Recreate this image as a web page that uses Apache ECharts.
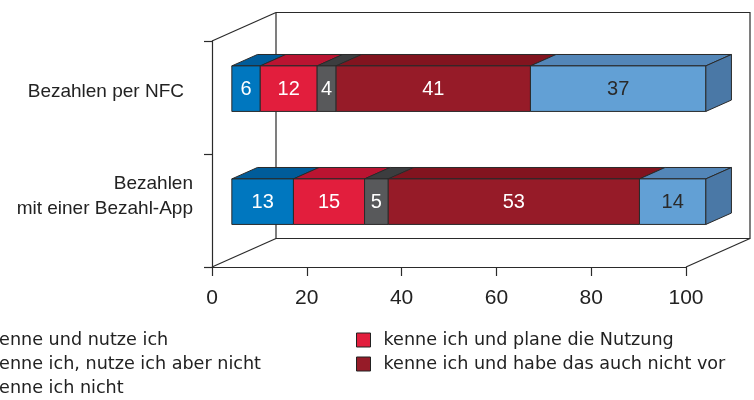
<!DOCTYPE html>
<html>
<head>
<meta charset="utf-8">
<script src="https://cdn.jsdelivr.net/npm/echarts@6/dist/echarts.min.js"></script>
<style>
html,body{margin:0;padding:0;background:#fff;}
#chart{width:754px;height:400px;}
</style>
</head>
<body>
<div id="chart"></div>
<script>
// ---- data ----
const categories = ['Bezahlen per NFC', 'Bezahlen\nmit einer Bezahl-App'];
const seriesNames = [
  'kenne und nutze ich',
  'kenne ich und plane die Nutzung',
  'kenne ich, nutze ich aber nicht',
  'kenne ich und habe das auch nicht vor',
  'kenne ich nicht'
];
const kenneNutze = [6, 13];
const plane = [12, 15];
const nutzeNicht = [4, 5];
const nichtVor = [41, 53];
const kenneNicht = [37, 14];
const xTicks = [0, 20, 40, 60, 80, 100];

const valueSets = [kenneNutze, plane, nutzeNicht, nichtVor, kenneNicht];
const frontColors = ['#0077BF', '#E21E3D', '#58595B', '#961B28', '#62A0D5'];
const topColors = ['#005C9A', '#BA1431', '#3C3D3F', '#82141F', '#5386B8'];
const sideColor = '#4A78A6';
const labelColors = ['#fff', '#fff', '#fff', '#fff', '#2a2a2a'];

const DEPTH = [64, -28.5];
const FRONT_OFF = 0.31;
const BAR_DEPTH = 0.4;
const BAR_RATIO = 0.403;
const STROKE = '#2a2a2a';
const FONT = '"Liberation Sans", Arial, sans-serif';

const chart = echarts.init(document.getElementById('chart'));

function makeBarRender(si, isLast) {
  return function (params, api) {
    const s = api.value(0), e = api.value(1), c = api.value(2), v = api.value(3);
    const p0 = api.coord([s, c]);
    const p1 = api.coord([e, c]);
    const h = api.size([0, 1])[1] * BAR_RATIO;
    const ox = DEPTH[0] * FRONT_OFF, oy = DEPTH[1] * FRONT_OFF;
    const dx = DEPTH[0] * BAR_DEPTH, dy = DEPTH[1] * BAR_DEPTH;
    const x0 = p0[0] + ox, x1 = p1[0] + ox;
    const yT = p0[1] - h / 2 + oy, yB = yT + h;
    const children = [
      {type: 'polygon', shape: {points: [[x0, yT], [x0 + dx, yT + dy], [x1 + dx, yT + dy], [x1, yT]]},
       style: {fill: topColors[si], stroke: STROKE, lineWidth: 1}},
      {type: 'polygon', shape: {points: [[x0, yT], [x1, yT], [x1, yB], [x0, yB]]},
       style: {fill: frontColors[si], stroke: STROKE, lineWidth: 1}}
    ];
    if (isLast) {
      children.push({type: 'polygon', shape: {points: [[x1, yT], [x1 + dx, yT + dy], [x1 + dx, yB + dy], [x1, yB]]},
        style: {fill: sideColor, stroke: STROKE, lineWidth: 1}});
    }
    children.push({type: 'text', x: (x0 + x1) / 2, y: (yT + yB) / 2 + 1,
      style: {text: String(v), fill: labelColors[si], font: '20px ' + FONT,
              align: 'center', verticalAlign: 'middle'}});
    return {type: 'group', children: children};
  };
}

function renderFrame(params, api) {
  const cs = params.coordSys;
  const L = api.coord([xTicks[0], 0])[0];
  const R = api.coord([xTicks[xTicks.length - 1], 0])[0];
  const T = cs.y, B = cs.y + cs.height;
  const dx = DEPTH[0], dy = DEPTH[1];
  const st = {stroke: STROKE, lineWidth: 1.2, fill: null};
  return {type: 'group', children: [
    {type: 'polyline', shape: {points: [[L + dx, T + dy], [R + dx, T + dy], [R + dx, B + dy], [L + dx, B + dy], [L + dx, T + dy]]}, style: st},
    {type: 'line', shape: {x1: L, y1: T, x2: L + dx, y2: T + dy}, style: st},
    {type: 'line', shape: {x1: L, y1: B, x2: L + dx, y2: B + dy}, style: st},
    {type: 'line', shape: {x1: R, y1: B, x2: R + dx, y2: B + dy}, style: st}
  ]};
}

const series = [{
  type: 'custom', name: '_frame', z: 1, silent: true,
  renderItem: renderFrame, data: [[0, 0]], encode: {x: 0, y: 1}
}];
valueSets.forEach(function (vals, si) {
  const data = vals.map(function (v, ci) {
    let start = 0;
    for (let k = 0; k < si; k++) start += valueSets[k][ci];
    return [start, start + v, ci, v];
  });
  series.push({
    type: 'custom', name: seriesNames[si], z: 2 + si,
    itemStyle: {color: frontColors[si]},
    renderItem: makeBarRender(si, si === valueSets.length - 1),
    encode: {x: [0, 1], y: 2},
    data: data
  });
});

const legendCommon = {
  orient: 'vertical', icon: 'rect', itemWidth: 14, itemHeight: 14, itemGap: 6,
  padding: 0, selectedMode: false,
  itemStyle: {borderColor: '#222', borderWidth: 1},
  textStyle: {fontFamily: '"DejaVu Sans", sans-serif', fontSize: 17.6, color: '#222', padding: [0, 0, 0, 8]}
};

chart.setOption({
  animation: false,
  backgroundColor: '#fff',
  grid: {left: 212, right: 68, top: 41, bottom: 133, containLabel: false},
  legend: [
    Object.assign({}, legendCommon, {left: -38, top: 331, data: [seriesNames[0], seriesNames[2], seriesNames[4]]}),
    Object.assign({}, legendCommon, {left: 356, top: 331, data: [seriesNames[1], seriesNames[3]]})
  ],
  xAxis: {
    type: 'value', min: xTicks[0], max: xTicks[xTicks.length - 1], interval: 20,
    splitLine: {show: false},
    axisLine: {show: true, lineStyle: {color: STROKE, width: 1.2}},
    axisTick: {show: true, length: 9, lineStyle: {color: STROKE, width: 1.2}},
    axisLabel: {color: '#222', fontSize: 21, fontFamily: FONT, margin: 21}
  },
  yAxis: {
    type: 'category', data: categories, inverse: true,
    axisLine: {show: true, lineStyle: {color: STROKE, width: 1.2}},
    axisTick: {show: true, length: 8, lineStyle: {color: STROKE, width: 1.2}},
    splitLine: {show: false},
    axisLabel: {
      color: '#222', fontSize: 19, fontFamily: FONT, margin: 19,
      align: 'right',
      formatter: function (value, index) {
        if (index === 0) return '{a|' + value + '}';
        const parts = value.split('\n');
        return '{b|' + parts[0] + '}\n{b|' + parts[1] + '}\n{e|}';
      },
      rich: {
        a: {fontSize: 19, lineHeight: 25, padding: [0, 9, 12, 0], color: '#222', fontFamily: FONT},
        b: {fontSize: 19, lineHeight: 25, color: '#222', fontFamily: FONT},
        e: {fontSize: 1, lineHeight: 28}
      }
    }
  },
  series: series
});
</script>
</body>
</html>
